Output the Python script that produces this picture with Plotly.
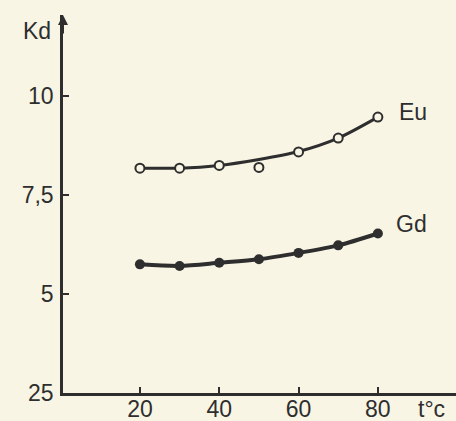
import plotly.graph_objects as go

temps = [20, 30, 40, 50, 60, 70, 80]
eu_points = [8.18, 8.18, 8.25, 8.20, 8.59, 8.94, 9.47]
eu_curve = [8.18, 8.18, 8.25, 8.40, 8.60, 8.94, 9.47]
gd_points = [5.75, 5.71, 5.79, 5.88, 6.04, 6.23, 6.53]

x_ticks = [20, 40, 60, 80]
y_ticks = [2.5, 5, 7.5, 10]
y_ticktext = ["25", "5", "7,5", "10"]

ink = "#2e2e2e"
bg = "#f8f5e5"
font = dict(family="Liberation Sans, Arial, sans-serif", size=23, color=ink)

fig = go.Figure()
fig.add_trace(go.Scatter(x=temps, y=eu_curve, mode="lines",
                         line=dict(color=ink, width=3, shape="spline", smoothing=0.8),
                         hoverinfo="skip", showlegend=False))
fig.add_trace(go.Scatter(x=temps, y=eu_points, mode="markers",
                         marker=dict(symbol="circle", size=9, color=bg,
                                     line=dict(color=ink, width=2)),
                         name="Eu", showlegend=False))
fig.add_trace(go.Scatter(x=temps, y=gd_points, mode="lines+markers",
                         line=dict(color=ink, width=4, shape="spline", smoothing=0.8),
                         marker=dict(symbol="circle", size=10, color=ink),
                         name="Gd", showlegend=False))

fig.add_annotation(x=88.8, y=9.6, text="Eu", showarrow=False, font=font, xanchor="center")
fig.add_annotation(x=88.5, y=6.77, text="Gd", showarrow=False, font=font, xanchor="center")
fig.add_annotation(xref="paper", yref="paper", x=(37 - 63) / 393, y=1 - (31 - 15) / 378,
                   text="Kd", showarrow=False, font=font, xanchor="center", yanchor="middle")
fig.add_annotation(xref="paper", yref="paper", x=(431 - 63) / 393, y=-(409 - 393) / 378,
                   text="t°c", showarrow=False, font=font, xanchor="center", yanchor="middle")
# arrow on y-axis top
fig.add_annotation(xref="paper", yref="paper", x=0, y=1.0, ax=0, ay=20,
                   showarrow=True, arrowhead=2, arrowsize=1, arrowwidth=2, arrowcolor=ink, text="")

fig.update_xaxes(range=[0.6, 99.7], tickvals=x_ticks, ticks="inside", ticklen=6, tickwidth=2,
                 tickcolor=ink, showline=True, linecolor=ink, linewidth=2.5, showgrid=False,
                 zeroline=False, tickfont=font, ticklabelstandoff=-6, automargin=False)
fig.update_yaxes(range=[2.5, 12.05], tickvals=y_ticks, ticktext=y_ticktext, ticks="inside",
                 ticklen=6, tickwidth=2, tickcolor=ink, showline=True, linecolor=ink, linewidth=2.5,
                 showgrid=False, zeroline=False, tickfont=font, ticklabelstandoff=2, automargin=False)

fig.update_layout(width=456, height=421, margin=dict(l=63, r=0, t=15, b=28),
                  paper_bgcolor=bg, plot_bgcolor=bg, showlegend=False)

fig.write_html("out.html", config={"displayModeBar": False},
               post_script="document.body.style.margin='0';document.body.style.overflow='hidden';")
